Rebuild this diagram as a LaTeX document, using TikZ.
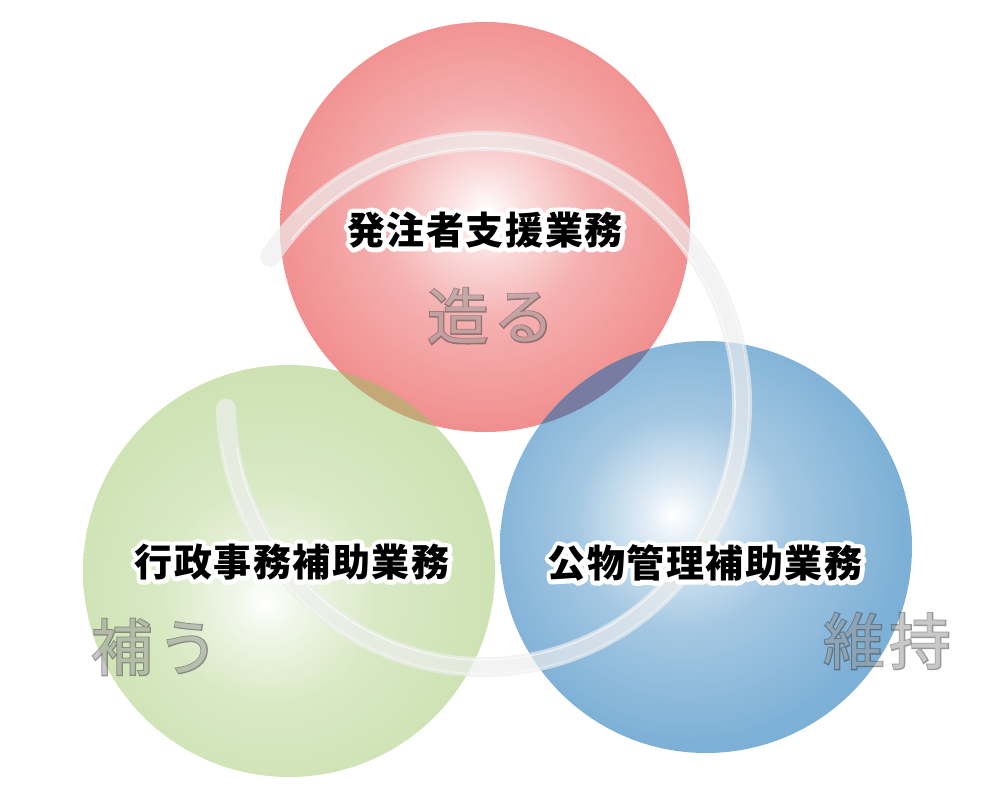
\documentclass[tikz,border=0pt]{standalone}
\usepackage{fontspec}
\newfontfamily\jplab{Noto Sans CJK JP}[LetterSpace=4]
\newfontfamily\jphalo{Noto Sans CJK JP}[LetterSpace=4, BoldFeatures={FakeBold=24}]
\newfontfamily\jpbig{Noto Sans CJK JP}[LetterSpace=8]
\newfontfamily\jpbigo{Noto Sans CJK JP}[LetterSpace=8, FakeBold=3.5]
\usetikzlibrary{calc}
\definecolor{redc}{RGB}{241,142,142}
\definecolor{greenc}{RGB}{205,226,178}
\definecolor{bluec}{RGB}{125,176,214}
\definecolor{lensrg}{RGB}{196,168,120}
\definecolor{lensrb}{RGB}{120,124,160}
\definecolor{ringc}{RGB}{238,238,238}
\definecolor{bigfill}{RGB}{150,150,150}
\definecolor{bigline}{RGB}{60,60,60}
\pgfdeclareradialshading{redglow}{\pgfpoint{0bp}{2bp}}{color(0bp)=(white); color(4bp)=(white!75!redc); color(13bp)=(white!30!redc); color(26bp)=(redc); color(50bp)=(redc)}
\pgfdeclareradialshading{greenglow}{\pgfpoint{-3bp}{-4bp}}{color(0bp)=(white); color(4bp)=(white!70!greenc); color(13bp)=(white!25!greenc); color(27bp)=(greenc); color(50bp)=(greenc)}
\pgfdeclareradialshading{blueglow}{\pgfpoint{-4bp}{4bp}}{color(0bp)=(white); color(4bp)=(white!75!bluec); color(13bp)=(white!30!bluec); color(26bp)=(bluec); color(50bp)=(bluec)}
\tikzset{
  lab/.style={font=\jplab\bfseries\fontsize{28.5}{32}\selectfont, inner sep=0pt, text=black},
  halo/.style={font=\jphalo\bfseries\fontsize{28.5}{32}\selectfont, inner sep=0pt, text=white},
  big/.style={font=\jpbig\fontsize{46}{50}\selectfont, inner sep=0pt, text=bigfill},
  bigo/.style={font=\jpbigo\fontsize{46}{50}\selectfont, inner sep=0pt, text=bigline},
  ringband/.style={draw=ringc, line width=15pt, opacity=0.68, line cap=round},
  ringline/.style={draw=white, line width=1.2pt, opacity=0.55, line cap=round},
}
\newcommand\halolabel[3]{%
  \node[halo] (#1h) at (#2) {#3};
  \node[lab] (#1) at (#2) {#3};}
\newcommand\graytext[3]{%
  \begin{scope}[transparency group, opacity=0.52]
  \node[bigo] (#1h) at (#2) {#3};
  \node[big] (#1) at (#2) {#3};
  \end{scope}}
\begin{document}
\begin{tikzpicture}[x=0.75pt,y=-0.75pt]
\fill[white] (0,0) rectangle (996,807);
\useasboundingbox (0,0) rectangle (996,807);
% circles
\shade[shading=greenglow] (289,571) circle[radius=206];
\shade[shading=redglow] (485,227) circle[radius=205];
\shade[shading=blueglow] (706,547) circle[radius=206];
% overlaps
\begin{scope}
  \clip (485,227) circle[radius=205];
  \fill[lensrg] (289,571) circle[radius=206];
  \fill[lensrb] (706,547) circle[radius=206];
\end{scope}
% swirl ring
\coordinate (rc) at (484,404);
\draw[ringband] ($(rc)+(-146:258 and 263)$) arc[start angle=-146, end angle=179, x radius=258, y radius=263];
\draw[ringline] ($(rc)+(-140:251 and 256)$) arc[start angle=-140, end angle=170, x radius=251, y radius=256];
\draw[ringline, opacity=0.35] ($(rc)+(-135:265 and 270)$) arc[start angle=-135, end angle=172, x radius=265, y radius=270];
\begin{scope}[line join=round]
% labels
\halolabel{l1}{485,230}{発注者支援業務}
\halolabel{l2}{292,562}{行政事務補助業務}
\halolabel{l3}{705,563}{公物管理補助業務}
% gray words
\graytext{g1}{491,316}{造る}
\graytext{g2}{155,647}{補う}
\graytext{g3}{887,641}{維持}
\end{scope}
\end{tikzpicture}
\end{document}
